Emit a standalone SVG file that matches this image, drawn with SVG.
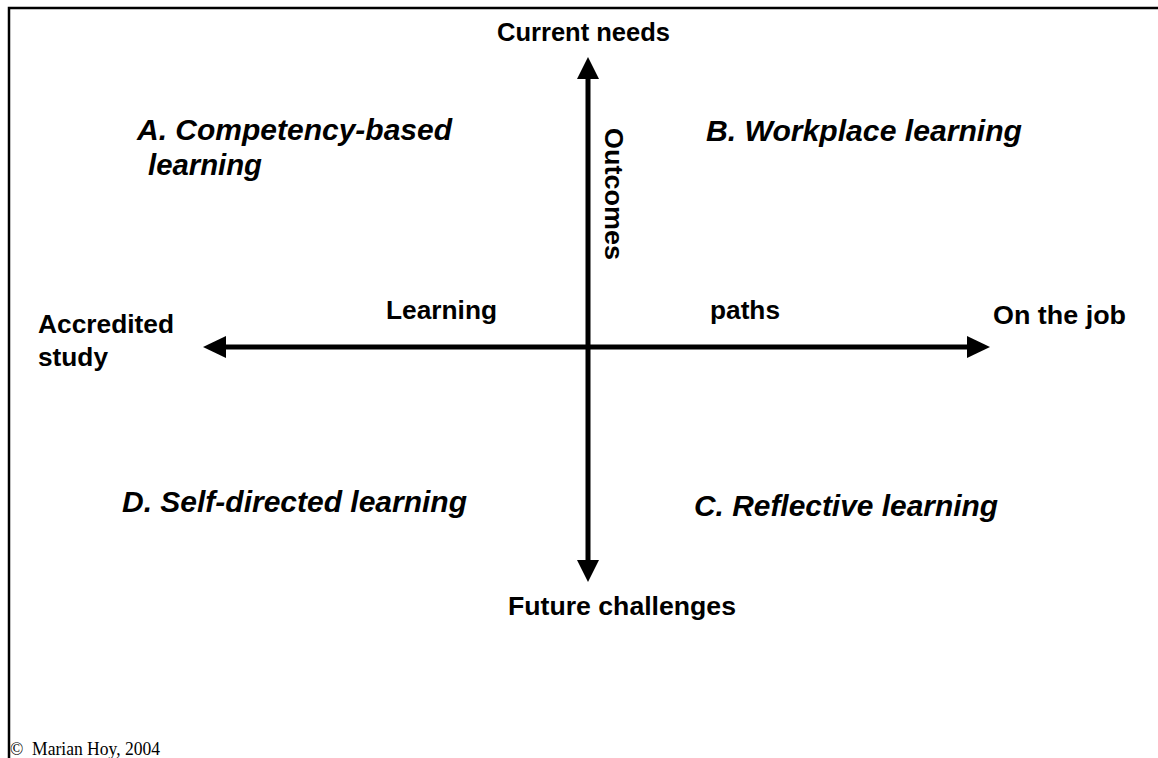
<svg xmlns="http://www.w3.org/2000/svg" width="1158" height="758" viewBox="0 0 1158 758">
<style>
.lbl{font-family:"Liberation Sans",Arial,sans-serif;font-weight:bold;font-size:26px;fill:#000}
.quad{font-family:"Liberation Sans",Arial,sans-serif;font-weight:bold;font-style:italic;font-size:29px;fill:#000}
.copy{font-family:"Liberation Serif","Times New Roman",serif;font-size:18.5px;fill:#000}
.axis{stroke:#000;stroke-width:5;fill:none}
</style>
<rect width="1158" height="758" fill="#fff"/>
<g id="frame">
<path d="M9,758 V8 H1158" stroke="#000" stroke-width="2.5" fill="none"/>
</g>
<g id="connectors">
<line class="axis" x1="588" y1="74" x2="588" y2="566"/>
<polygon points="588,57 577,79 599,79" fill="#000"/>
<polygon points="588,582 577,560 599,560" fill="#000"/>
<line class="axis" x1="220" y1="347" x2="974" y2="347"/>
<polygon points="203,347 226,336 226,358" fill="#000"/>
<polygon points="990,347 967,336 967,358" fill="#000"/>
</g>
<g id="current-needs"><text class="lbl" x="497" y="41" textLength="173" lengthAdjust="spacingAndGlyphs">Current needs</text></g>
<g id="future-challenges"><text class="lbl" x="508" y="615" textLength="228" lengthAdjust="spacingAndGlyphs">Future challenges</text></g>
<g id="accredited-study"><text class="lbl" x="38" y="333" textLength="136" lengthAdjust="spacingAndGlyphs">Accredited</text><text class="lbl" x="38" y="366" textLength="70" lengthAdjust="spacingAndGlyphs">study</text></g>
<g id="on-the-job"><text class="lbl" x="993" y="324" textLength="133" lengthAdjust="spacingAndGlyphs">On the job</text></g>
<g id="learning"><text class="lbl" x="386" y="319" textLength="111" lengthAdjust="spacingAndGlyphs">Learning</text></g>
<g id="paths"><text class="lbl" x="710" y="319" textLength="70" lengthAdjust="spacingAndGlyphs">paths</text></g>
<g id="outcomes"><text class="lbl" transform="translate(605,128) rotate(90)" textLength="132" lengthAdjust="spacingAndGlyphs">Outcomes</text></g>
<g id="quadrant-a"><text class="quad" x="137" y="140" textLength="315" lengthAdjust="spacingAndGlyphs">A. Competency-based</text><text class="quad" x="148" y="175" textLength="114" lengthAdjust="spacingAndGlyphs">learning</text></g>
<g id="quadrant-b"><text class="quad" x="706" y="141" textLength="316" lengthAdjust="spacingAndGlyphs">B. Workplace learning</text></g>
<g id="quadrant-c"><text class="quad" x="694" y="516" textLength="304" lengthAdjust="spacingAndGlyphs">C. Reflective learning</text></g>
<g id="quadrant-d"><text class="quad" x="122" y="512" textLength="345" lengthAdjust="spacingAndGlyphs">D. Self-directed learning</text></g>
<g id="copyright"><text class="copy" x="10" y="755" xml:space="preserve" textLength="150" lengthAdjust="spacingAndGlyphs">©  Marian Hoy, 2004</text></g>
</svg>
